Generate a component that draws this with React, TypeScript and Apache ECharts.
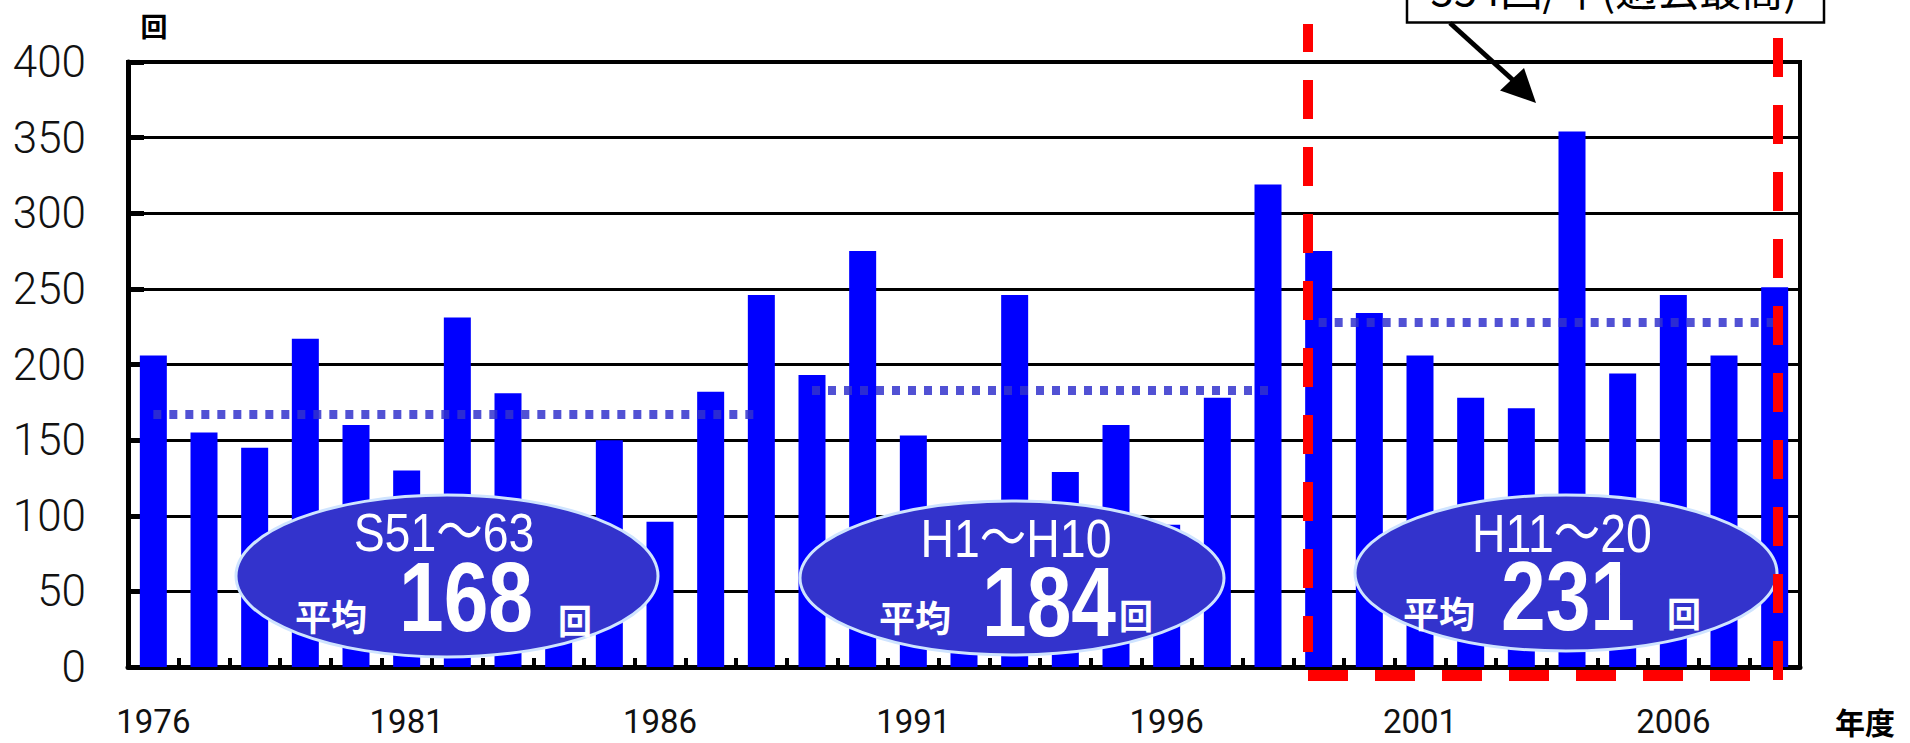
import React, { useEffect, useRef } from 'react';
import * as echarts from 'echarts';

const years = [
  '1976', '1977', '1978', '1979', '1980', '1981', '1982', '1983', '1984', '1985', '1986',
  '1987', '1988', '1989', '1990', '1991', '1992', '1993', '1994', '1995', '1996', '1997',
  '1998', '1999', '2000', '2001', '2002', '2003', '2004', '2005', '2006', '2007', '2008',
];
const counts = [
  206, 155, 145, 217, 160, 130, 231, 181, 103, 150, 96,
  182, 246, 193, 275, 153, 93, 246, 129, 160, 94, 178,
  319, 275, 234, 206, 178, 171, 354, 194, 246, 206, 251,
];
const periodStart = ['1976', '1989', '1999'];
const periodEnd = ['1988', '1998', '2008'];
const periodLineLevel = [167, 183, 228];
const periodNames = ['S51～63', 'H1～H10', 'H11～20'];
const periodAverages = ['168', '184', '231'];
const yMax = 400;
const yStep = 50;

const LATIN = "'Liberation Sans', 'Noto Sans CJK JP', sans-serif";
const CJK = "'Noto Sans CJK JP', sans-serif";

export default function App() {
  const ref = useRef<HTMLDivElement>(null);
  useEffect(() => {
    document.body.style.margin = '0';
    if (!ref.current) return;
    const chart = echarts.init(ref.current, undefined, { renderer: 'svg' });

    const ellipses = [
      { cx: 447, cy: 576, rx: 211, ry: 81, name: [444, 532], avgLbl: [331, 615], num: [466, 597], unit: [575, 619] },
      { cx: 1012, cy: 578, rx: 212, ry: 77, name: [1016, 538], avgLbl: [915, 616], num: [1049, 602], unit: [1136, 614] },
      { cx: 1566, cy: 573, rx: 211, ry: 78, name: [1562, 533], avgLbl: [1439, 612], num: [1568, 596], unit: [1684, 612] },
    ];

    const graphic: any[] = [];
    ellipses.forEach((e, i) => {
      graphic.push({
        type: 'ellipse', z: 100,
        shape: { cx: e.cx, cy: e.cy, rx: e.rx, ry: e.ry },
        style: { fill: '#3333cc', stroke: '#cfe4ff', lineWidth: 3 },
      });
      graphic.push({
        type: 'text', z: 101, x: e.name[0], y: e.name[1], scaleX: 0.86,
        style: {
          text: periodNames[i], fill: '#ffffff', fontSize: 54, lineHeight: 40, fontFamily: LATIN,
          align: 'center', verticalAlign: 'middle',
        },
      });
      graphic.push({
        type: 'text', z: 101, x: e.avgLbl[0], y: e.avgLbl[1],
        style: {
          text: '平均', fill: '#ffffff', fontSize: 36, lineHeight: 36, fontWeight: 'bold', fontFamily: CJK,
          align: 'center', verticalAlign: 'middle',
        },
      });
      graphic.push({
        type: 'text', z: 101, x: e.num[0], y: e.num[1], scaleX: 0.82,
        style: {
          text: periodAverages[i], fill: '#ffffff', fontSize: 98, lineHeight: 72, fontWeight: 'bold', fontFamily: LATIN,
          align: 'center', verticalAlign: 'middle',
          textShadowColor: '#8a8a9a', textShadowOffsetX: 3, textShadowOffsetY: 3, textShadowBlur: 0,
        },
      });
      graphic.push({
        type: 'text', z: 101, x: e.unit[0], y: e.unit[1],
        style: {
          text: '回', fill: '#ffffff', fontSize: 34, lineHeight: 34, fontWeight: 'bold', fontFamily: CJK,
          align: 'center', verticalAlign: 'middle',
        },
      });
    });

    // red dashed frame around H11-20
    graphic.push({
      type: 'line', z: 120,
      shape: { x1: 1308, y1: 24, x2: 1308, y2: 652 },
      style: { stroke: '#ff0000', lineWidth: 10, lineDash: [39, 28], lineDashOffset: 11 },
    });
    graphic.push({
      type: 'line', z: 120,
      shape: { x1: 1778, y1: 38, x2: 1778, y2: 681 },
      style: { stroke: '#ff0000', lineWidth: 10, lineDash: [39, 28], lineDashOffset: 0 },
    });
    graphic.push({
      type: 'line', z: 120,
      shape: { x1: 1308, y1: 675.5, x2: 1773, y2: 675.5 },
      style: { stroke: '#ff0000', lineWidth: 11, lineDash: [40, 27] },
    });

    // annotation box and arrow
    graphic.push({
      type: 'rect', z: 110,
      shape: { x: 1407, y: -40, width: 417, height: 62.5 },
      style: { fill: '#ffffff', stroke: '#000000', lineWidth: 2.5 },
    });
    graphic.push({
      type: 'text', z: 111, x: 1614, y: -13,
      style: {
        text: '354回/年(過去最高)', fill: '#000000', fontSize: 42, lineHeight: 42, fontFamily: CJK,
        align: 'center', verticalAlign: 'middle',
      },
    });
    graphic.push({
      type: 'line', z: 110,
      shape: { x1: 1450, y1: 23, x2: 1514, y2: 81 },
      style: { stroke: '#000000', lineWidth: 5 },
    });
    graphic.push({
      type: 'polygon', z: 110,
      shape: { points: [[1536, 103], [1500, 90.5], [1524, 68]] },
      style: { fill: '#000000' },
    });

    // unit labels
    graphic.push({
      type: 'text', z: 50, x: 154, y: 25,
      style: {
        text: '回', fill: '#000000', fontSize: 27, lineHeight: 27, fontWeight: 'bold', fontFamily: CJK,
        align: 'center', verticalAlign: 'middle',
      },
    });
    graphic.push({
      type: 'text', z: 50, x: 1865, y: 721,
      style: {
        text: '年度', fill: '#000000', fontSize: 30, lineHeight: 28, fontWeight: 'bold', fontFamily: CJK,
        align: 'center', verticalAlign: 'middle',
      },
    });

    const option: any = {
      animation: false,
      grid: {
        left: 128, right: 110, top: 62, bottom: 76,
        show: true, borderColor: '#000', borderWidth: 4, backgroundColor: 'transparent',
      },
      xAxis: {
        type: 'category',
        data: years,
        boundaryGap: true,
        axisLine: { lineStyle: { color: '#000', width: 5 } },
        axisTick: { show: true, inside: true, length: 9, interval: 0, lineStyle: { color: '#000', width: 4 } },
        axisLabel: { interval: 4, margin: 39, fontSize: 33, lineHeight: 30, fontFamily: 'Roboto', color: '#111' },
        splitLine: { show: false },
      },
      yAxis: {
        type: 'value', min: 0, max: yMax, interval: yStep,
        axisLine: { show: true, lineStyle: { color: '#000', width: 5 } },
        axisTick: { show: true, inside: true, length: 16, lineStyle: { color: '#000', width: 5 } },
        axisLabel: { margin: 42, fontSize: 44, fontFamily: 'Roboto', fontWeight: 300, color: '#111' },
        splitLine: { show: true, lineStyle: { color: '#000', width: 3 } },
      },
      series: [
        {
          type: 'bar',
          data: counts,
          barWidth: 27,
          itemStyle: { color: '#0000ff' },
          markLine: {
            silent: true,
            symbol: 'none',
            label: { show: false },
            lineStyle: { color: '#3333cc', width: 9, type: [8, 8], opacity: 0.85, cap: 'butt' },
            data: periodStart.map((s, i) => [
              { coord: [s, periodLineLevel[i]] },
              { coord: [periodEnd[i], periodLineLevel[i]] },
            ]),
          },
        },
      ],
      graphic,
    };
    chart.setOption(option);
    return () => chart.dispose();
  }, []);
  return <div ref={ref} style={{ width: 1910, height: 743 }} />;
}
